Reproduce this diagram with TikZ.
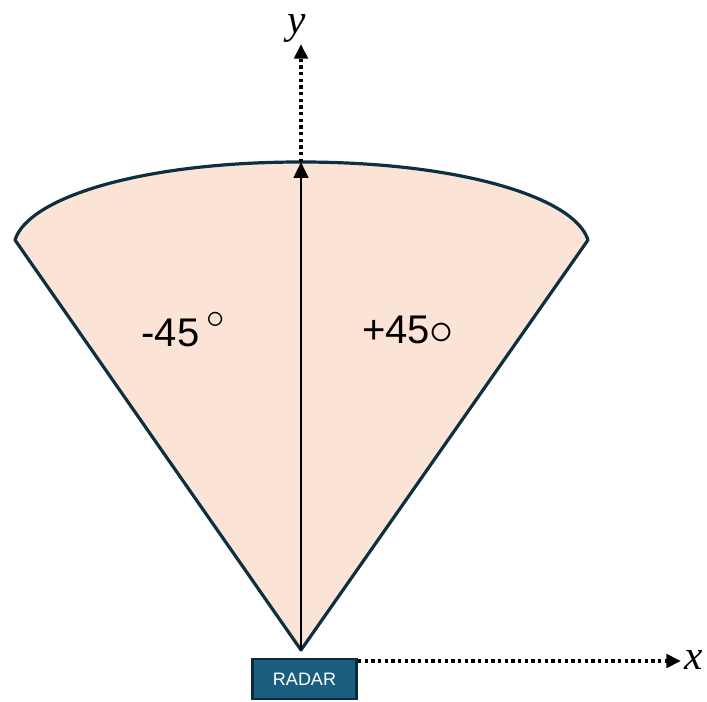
\documentclass[tikz,border=0pt]{standalone}
\usepackage{fontspec}
\setmainfont{Liberation Sans}
\newfontfamily\serifit{Liberation Serif}
\usetikzlibrary{arrows.meta}
\definecolor{peach}{HTML}{FBE3D6}
\definecolor{edge}{HTML}{0E2F40}
\definecolor{radarfill}{HTML}{1A5F80}
\definecolor{radaredge}{HTML}{0B2A3A}
\tikzset{
  sector/.style={fill=peach, draw=edge, line width=2.4pt, line join=round},
  axisdot/.style={line width=3pt, dash pattern=on 2.6pt off 2.4pt, -{Triangle[length=11pt,width=10pt]}},
  boresight/.style={line width=1.9pt, -{Triangle[length=12pt,width=11pt]}},
  radarbox/.style={fill=radarfill, draw=radaredge, line width=2.2pt, minimum width=78pt, minimum height=30pt, inner sep=0pt, text=white, font=\fontsize{13.5}{15}\selectfont},
  anglelbl/.style={font=\fontsize{30}{34}\selectfont},
  axislbl/.style={inner sep=0pt, font=\fontsize{31}{34}\selectfont\serifit\itshape}
}
\begin{document}
\begin{tikzpicture}[x=0.75pt,y=-0.75pt]
\useasboundingbox (0,0) rectangle (707,702);
\coordinate (apex) at (301,650);
\coordinate (L) at (15,240);
\coordinate (R) at (588,240);
\coordinate (top) at (301,162);
\coordinate (yend) at (301,44);
\draw[sector] (apex) -- (L) .. controls (28,198) and (140,162) .. (top) .. controls (462,162) and (575,198) .. (R) -- cycle;
\node[radarbox] (radar) at (304.5,679) {RADAR};
\coordinate (xend) at (681,661);
\draw[axisdot] (radar.north east |- 0,661) -- (xend);
\draw[axisdot] (top) -- (yend);
\draw[boresight] (apex) -- (top);
\node[anglelbl] (neg) at (183,330) {-45\,\raisebox{0.85ex}{\scalebox{1.1}{$\circ$}}};
\node[anglelbl] (pos) at (408,330) {+45\raisebox{-0.05ex}{\scalebox{1.45}{$\circ$}}};
\node[axislbl] (ylbl) at (297,28) {y};
\node[axislbl] (xlbl) at (694,660) {x};
\end{tikzpicture}
\end{document}
